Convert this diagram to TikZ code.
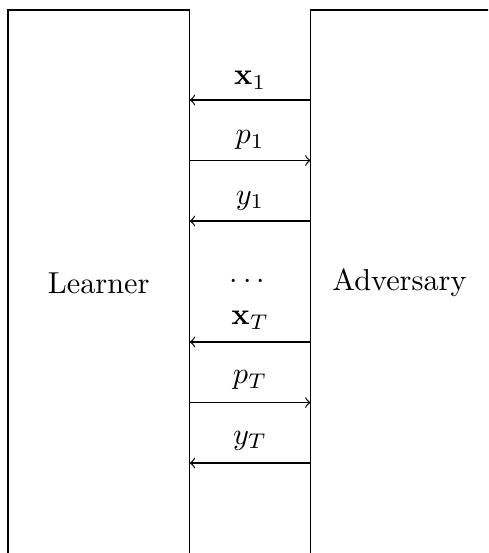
\documentclass[tikz,border=0pt]{standalone}
\usepackage{amsmath}
\begin{document}
\begin{tikzpicture}[x=0.33pt,y=-0.33pt,>=to,
  box/.style={draw, line width=0.4pt, inner sep=0pt, outer sep=0pt},
  msg/.style={->, line width=0.4pt},
  lab/.style={above, inner sep=3.33pt}]
\useasboundingbox (0,0) rectangle (488,553);
\clip (0,0) rectangle (488,553);
\node[box, minimum width=59.9pt, minimum height=180.2pt] (L) at (98.75,283) {Learner};
\node[box, minimum width=62pt, minimum height=180.2pt, anchor=west] (A) at (310.7,283) {};
\node (advtext) at (399.5,283) {Adversary};
\coordinate (r1) at (250,100);
\coordinate (r2) at (250,160.5);
\coordinate (r3) at (250,221);
\coordinate (r4) at (250,342);
\coordinate (r5) at (250,402.5);
\coordinate (r6) at (250,463);
\draw[msg] (A.west |- r1) -- (L.east |- r1) node[midway, lab] (lx1) {$\mathbf{x}_1$};
\draw[msg] (L.east |- r2) -- (A.west |- r2) node[midway, lab] (lp1) {$p_1$};
\draw[msg] (A.west |- r3) -- (L.east |- r3) node[midway, lab] (ly1) {$y_1$};
\node (dots) at (250,282) {$\cdots$};
\draw[msg] (A.west |- r4) -- (L.east |- r4) node[midway, lab, yshift=0.7pt] (lxT) {$\mathbf{x}_T$};
\draw[msg] (L.east |- r5) -- (A.west |- r5) node[midway, lab, yshift=0.7pt] (lpT) {$p_T$};
\draw[msg] (A.west |- r6) -- (L.east |- r6) node[midway, lab, yshift=0.7pt] (lyT) {$y_T$};
\end{tikzpicture}
\end{document}
